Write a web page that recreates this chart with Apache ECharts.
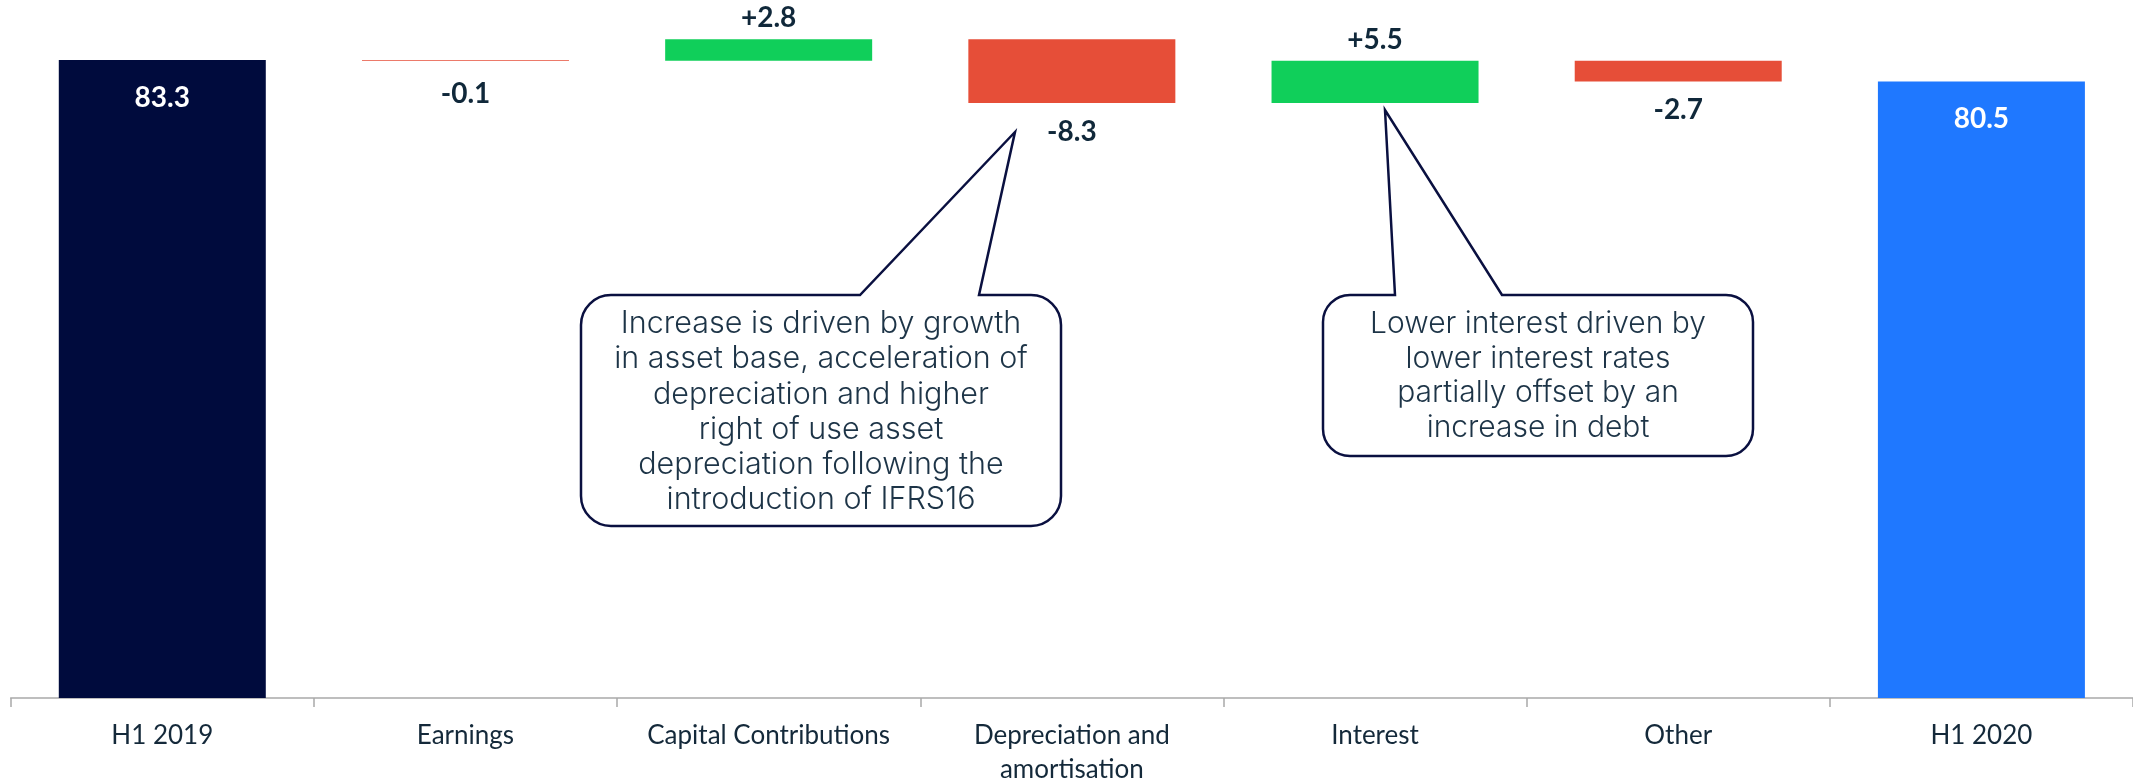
<!DOCTYPE html>
<html>
<head>
<meta charset="utf-8">
<script src="https://cdn.jsdelivr.net/npm/echarts@6/dist/echarts.min.js"></script>
<style>
html,body{margin:0;padding:0;background:#fff;}
#c{width:2133px;height:783px;}
</style>
</head>
<body>
<div id="c"></div>
<script>
const categories = ['H1 2019', 'Earnings', 'Capital Contributions', 'Depreciation and\namortisation', 'Interest', 'Other', 'H1 2020'];
const startTotal = 83.3;
const changes = [-0.1, 2.8, -8.3, 5.5, -2.7];
const endTotal = 80.5;
const valueLabels = ['83.3', '-0.1', '+2.8', '-8.3', '+5.5', '-2.7', '80.5'];

const C_START = '#000b3d', C_UP = '#10cf5a', C_DOWN = '#e64e38', C_END = '#1f78ff';
const TXT = '#10283a';

// build waterfall base + height
const base = [0], height = [startTotal];
let running = startTotal;
changes.forEach(d => {
  if (d < 0) { base.push(+(running + d).toFixed(2)); height.push(-d); }
  else { base.push(+running.toFixed(2)); height.push(d); }
  running += d;
});
base.push(0); height.push(endTotal);

const barData = height.map((h, i) => {
  const isTotal = (i === 0 || i === height.length - 1);
  const d = isTotal ? 0 : changes[i - 1];
  const color = i === 0 ? C_START : (i === height.length - 1 ? C_END : (d < 0 ? C_DOWN : C_UP));
  return {
    value: h,
    itemStyle: { color: color },
    label: {
      show: true,
      formatter: valueLabels[i],
      position: isTotal ? 'insideTop' : (d < 0 ? 'bottom' : 'top'),
      distance: isTotal ? 24 : (d < 0 ? (h < 0.5 ? 19 : 15) : 7),
      color: isTotal ? '#ffffff' : TXT,
      fontFamily: 'Lato',
      fontWeight: 'bold',
      fontSize: 28
    }
  };
});

function bubble(x0, y0, x1, y1, r, b1, tx, ty, b2) {
  const c = r * 0.5523;
  return `M${x0 + r},${y0} L${b1},${y0} L${tx},${ty} L${b2},${y0} L${x1 - r},${y0} ` +
    `C${x1 - r + c},${y0} ${x1},${y0 + r - c} ${x1},${y0 + r} L${x1},${y1 - r} ` +
    `C${x1},${y1 - r + c} ${x1 - r + c},${y1} ${x1 - r},${y1} L${x0 + r},${y1} ` +
    `C${x0 + r - c},${y1} ${x0},${y1 - r + c} ${x0},${y1 - r} L${x0},${y0 + r} ` +
    `C${x0},${y0 + r - c} ${x0 + r - c},${y0} ${x0 + r},${y0} Z`;
}

const note1 = 'Increase is driven by growth\nin asset base, acceleration of\ndepreciation and higher\nright of use asset\ndepreciation following the\nintroduction of IFRS16';
const note2 = 'Lower interest driven by\nlower interest rates\npartially offset by an\nincrease in debt';

const chart = echarts.init(document.getElementById('c'), null, { renderer: 'canvas' });
chart.setOption({
  animation: false,
  backgroundColor: '#ffffff',
  grid: { left: 10.7, right: 0, top: 8.7, bottom: 85, containLabel: false, outerBoundsMode: 'none' },
  xAxis: {
    type: 'category',
    data: categories,
    axisLine: { lineStyle: { color: '#a9a9a9', width: 1.5 } },
    axisTick: { show: true, length: 9, lineStyle: { color: '#a9a9a9', width: 1.5 } },
    axisLabel: {
      interval: 0, margin: 21, color: '#14293a', fontFamily: 'Lato', fontSize: 26, lineHeight: 34
    }
  },
  yAxis: { type: 'value', min: 0, max: 90, show: false, splitLine: { show: false } },
  series: [
    {
      type: 'bar', stack: 'w', data: base, barWidth: 207,
      itemStyle: { color: 'transparent' }, silent: true, label: { show: false }
    },
    {
      type: 'bar', stack: 'w', data: barData, barWidth: 207
    }
  ],
  graphic: [
    {
      type: 'text', z: 101, x: 821, y: 412,
      style: { text: note1, fill: '#1d3447', fontFamily: 'Inter', fontWeight: 300, fontSize: 30.5, lineHeight: 35.3, align: 'center', verticalAlign: 'middle' }
    },
    {
      type: 'text', z: 101, x: 1538, y: 376,
      style: { text: note2, fill: '#1d3447', fontFamily: 'Inter', fontWeight: 300, fontSize: 30, lineHeight: 34.5, align: 'center', verticalAlign: 'middle' }
    }
  ]
});

// callout outlines (annotation shapes)
const bubbleStyle = { fill: 'rgba(255,255,255,0)', stroke: '#0a1040', lineWidth: 2.5 };
[
  bubble(581, 295, 1061, 526, 30, 860, 1015, 132, 979),
  bubble(1323, 295, 1753, 456, 27, 1395, 1385, 110, 1502)
].forEach(d => {
  const p = echarts.graphic.makePath(d, { style: bubbleStyle, z: 99 });
  chart.getZr().add(p);
});
</script>
</body>
</html>
